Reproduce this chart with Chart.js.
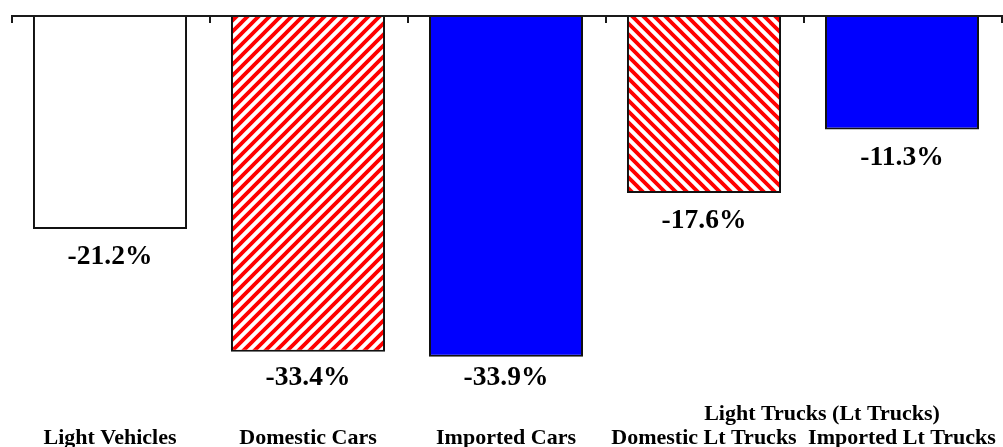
<!DOCTYPE html>
<html>
<head>
<meta charset="utf-8">
<script src="https://cdn.jsdelivr.net/npm/chart.js@4/dist/chart.umd.min.js"></script>
<style>
  html, body { margin: 0; padding: 0; background: #ffffff; }
  #wrap { width: 1003px; height: 447px; }
</style>
</head>
<body>
<div id="wrap"><canvas id="c" width="1003" height="447"></canvas></div>
<script>
// Year-over-year change in sales, by vehicle segment (percent)
const categories = ['Light Vehicles', 'Domestic Cars', 'Imported Cars', 'Domestic Lt Trucks', 'Imported Lt Trucks'];
const changePct = [-21.2, -33.4, -33.9, -17.6, -11.3];
const groupLabel = 'Light Trucks (Lt Trucks)';
const groupMembers = [3, 4];
const fillKinds = ['plain', 'hatchUp', 'solid', 'hatchDown', 'solid'];

const SERIF = '"Liberation Serif", "Times New Roman", Times, serif';

// Diagonal red/white hatch tile
function makeHatch(direction) {
  const size = 11;
  const tile = document.createElement('canvas');
  tile.width = size; tile.height = size;
  const g = tile.getContext('2d');
  g.fillStyle = '#ffffff';
  g.fillRect(0, 0, size, size);
  g.strokeStyle = '#ff0000';
  g.lineWidth = 3.8;
  g.beginPath();
  if (direction === 'up') {
    g.moveTo(-1, size + 1); g.lineTo(size + 1, -1);
    g.moveTo(-size / 2 - 1, size / 2 + 1); g.lineTo(size / 2 + 1, -size / 2 - 1);
    g.moveTo(size / 2 - 1, size * 1.5 + 1); g.lineTo(size * 1.5 + 1, size / 2 - 1);
  } else {
    g.moveTo(-1, -1); g.lineTo(size + 1, size + 1);
    g.moveTo(-size / 2 - 1, size / 2 - 1); g.lineTo(size / 2 + 1, size * 1.5 + 1);
    g.moveTo(size / 2 - 1, -size / 2 - 1); g.lineTo(size * 1.5 + 1, size / 2 + 1);
  }
  g.stroke();
  return document.getElementById('c').getContext('2d').createPattern(tile, 'repeat');
}

const fills = {
  plain: '#ffffff',
  solid: '#0000ff',
  hatchUp: makeHatch('up'),
  hatchDown: makeHatch('down')
};

// Top zero axis with boundary ticks, value labels and category labels
const annotate = {
  id: 'annotate',
  afterDatasetsDraw(chart) {
    const ctx = chart.ctx;
    const xs = chart.scales.x;
    const ys = chart.scales.y;
    const y0 = ys.getPixelForValue(0);
    ctx.save();

    // zero line
    ctx.strokeStyle = '#1a1a1a';
    ctx.lineWidth = 2;
    ctx.beginPath();
    ctx.moveTo(xs.left, y0);
    ctx.lineTo(chart.width, y0);
    ctx.stroke();

    // tick marks at category boundaries
    ctx.lineWidth = 2;
    for (let i = 0; i <= categories.length; i++) {
      const tx = Math.round(xs.getPixelForValue(i - 0.5)) + 1;
      ctx.beginPath();
      ctx.moveTo(tx, y0);
      ctx.lineTo(tx, y0 + 7);
      ctx.stroke();
    }

    // value labels under each bar
    const meta = chart.getDatasetMeta(0);
    ctx.fillStyle = '#000000';
    ctx.textAlign = 'center';
    ctx.textBaseline = 'alphabetic';
    ctx.font = 'bold 27.5px ' + SERIF;
    meta.data.forEach((bar, i) => {
      const base = Math.min(bar.y + 35, 385);
      ctx.fillText(changePct[i].toFixed(1) + '%', bar.x, base);
    });

    // category labels
    ctx.font = 'bold 22px ' + SERIF;
    categories.forEach((name, i) => {
      ctx.fillText(name, xs.getPixelForValue(i), 444);
    });

    // group heading over the light-truck categories
    const gx = (xs.getPixelForValue(groupMembers[0]) + xs.getPixelForValue(groupMembers[1])) / 2 + 19;
    ctx.fillText(groupLabel, gx, 420);

    ctx.restore();
  }
};

new Chart(document.getElementById('c'), {
  type: 'bar',
  data: {
    labels: categories,
    datasets: [{
      data: changePct,
      backgroundColor: fillKinds.map(k => fills[k]),
      borderColor: '#111111',
      borderWidth: 2,
      borderSkipped: 'start',
      barPercentage: 0.778,
      categoryPercentage: 1.0
    }]
  },
  options: {
    responsive: false,
    animation: false,
    devicePixelRatio: 1,
    layout: { padding: { left: 11, right: 2, top: 16, bottom: 29 } },
    plugins: { legend: { display: false }, tooltip: { enabled: false } },
    scales: {
      x: { display: false, offset: true },
      y: { display: false, min: -40, max: 0 }
    }
  },
  plugins: [annotate]
});
</script>
</body>
</html>
